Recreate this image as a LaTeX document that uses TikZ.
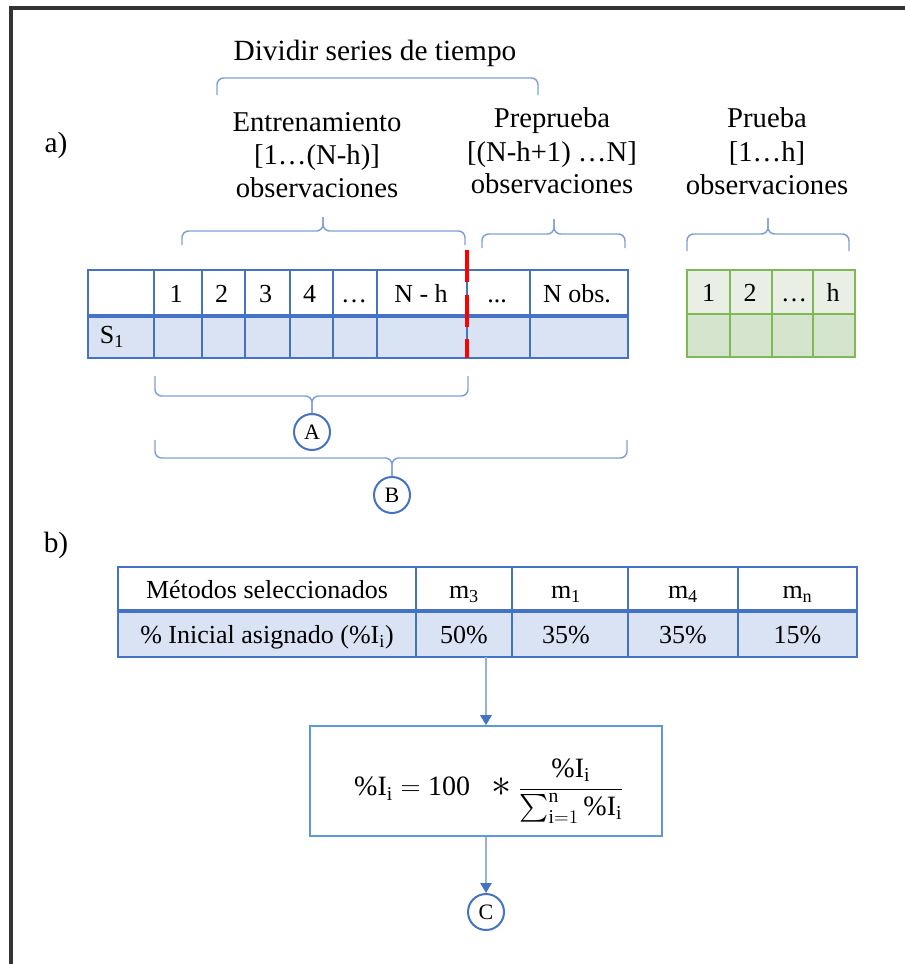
\documentclass[tikz,border=0pt]{standalone}
\usepackage{amsmath}
\usepackage{fontspec}
\setmainfont{Liberation Serif}
\usetikzlibrary{arrows.meta}

\definecolor{tblue}{HTML}{4472C4}
\definecolor{tfill}{HTML}{DAE3F3}
\definecolor{ggrid}{HTML}{7FB956}
\definecolor{gtop}{HTML}{E9EFE5}
\definecolor{gbot}{HTML}{D5E4CD}
\definecolor{bracecol}{HTML}{7F9FD6}
\definecolor{arrline}{HTML}{9DAFD1}
\definecolor{formbox}{HTML}{5B9BD5}
\definecolor{framecol}{HTML}{333333}
\definecolor{splitred}{HTML}{FF0000}

\newcommand\lblsize{\fontsize{21.5}{26}\selectfont}
\newcommand\cellsize{\fontsize{19.5}{23}\selectfont}
\newcommand\circsize{\fontsize{16.5}{19}\selectfont}
\newcommand\formsize{\fontsize{21}{25}\selectfont}
\newcommand\pI{\text{\%I}_{\text{i}}}
\newcommand\bigast{\mathbin{\raisebox{-0.5pt}{\scalebox{1.45}{$\ast$}}}}

\begin{document}
\begin{tikzpicture}[x=0.75pt,y=-0.75pt,
  lbl/.style={font=\lblsize, anchor=base, inner sep=0pt},
  cell/.style={font=\cellsize, anchor=base, inner sep=0pt},
  brc/.style={draw=bracecol, line width=1.1pt, rounded corners=5pt},
  bluegrid/.style={draw=tblue, line width=1.5pt},
  greengrid/.style={draw=ggrid, line width=1.5pt},
  tag/.style={circle, draw=tblue, line width=1.5pt, minimum size=27pt, inner sep=0pt, font=\circsize},
  flow/.style={draw=arrline, line width=1.2pt, -{Triangle[length=7.5pt,width=8.5pt,color=tblue]}},
  area/.style={draw=none, inner sep=0pt}]
\useasboundingbox (0,0) rectangle (905,964);

% outer frame (top and left edges)
\draw[framecol, line width=2.4pt] (905,8) -- (11,8) -- (11,964);

% ---------- part a) ----------
\node[lbl, font=\fontsize{22}{26}\selectfont] (la) at (56,152) {a)};

\node[lbl, font=\fontsize{22}{26}\selectfont] (div) at (375,60) {Dividir series de tiempo};
\draw[brc] (217,95) -- (217,78) -- (538,78) -- (538,95);

\node[lbl] (tr1) at (317,131) {Entrenamiento};
\node[lbl] (tr2) at (317,164) {[1…(N-h)]};
\node[lbl] (tr3) at (317,197) {observaciones};

\node[lbl] (pp1) at (552,127) {Preprueba};
\node[lbl] (pp2) at (552,161) {[(N-h+1) …N]};
\node[lbl] (pp3) at (552,193) {observaciones};

\node[lbl] (pr1) at (767,127) {Prueba};
\node[lbl] (pr2) at (767,161) {[1…h]};
\node[lbl] (pr3) at (767,194) {observaciones};

% braces under the three labels
\draw[brc] (182,245) -- (182,231) -- (323,231) -- (323,217);
\draw[brc] (465,245) -- (465,231) -- (323,231) -- (323,217);
\draw[brc] (482,248) -- (482,234) -- (554,234) -- (554,219);
\draw[brc] (625,248) -- (625,234) -- (554,234) -- (554,219);
\draw[brc] (687,251) -- (687,234) -- (768,234) -- (768,218);
\draw[brc] (849,251) -- (849,234) -- (768,234) -- (768,218);

% series table
\fill[tfill] (88,316) rectangle (628,358);
\draw[bluegrid] (88,270) rectangle (628,358);
\foreach \xx in {154,202,245,290,333,377,467,530}
  \draw[bluegrid] (\xx,270) -- (\xx,358);
\draw[tblue, line width=3pt] (88,316) -- (628,316);
\node[area, minimum width=405pt, minimum height=66pt] (t1) at (358,314) {};

\node[cell] (c1) at (176,302) {1};
\node[cell] (c2) at (221.5,302) {2};
\node[cell] (c3) at (265.5,302) {3};
\node[cell] (c4) at (309.5,302) {4};
\node[cell] (c5) at (354,302) {…};
\node[cell] (c6) at (421,302) {N - h};
\node[cell] (c7) at (497,302) {...};
\node[cell] (c8) at (577,302) {N obs.};
\node[cell] (s1) at (112,343) {S\textsubscript{1}};

% split marker
\draw[splitred, line width=3pt, dash pattern=on 24pt off 9.5pt] (467,250) -- (467,358);

% test table
\fill[gtop] (687,270) rectangle (855,314);
\fill[gbot] (687,314) rectangle (855,357);
\draw[greengrid] (687,270) rectangle (855,357);
\foreach \xx in {730,772,813}
  \draw[greengrid] (\xx,270) -- (\xx,357);
\draw[greengrid] (687,314) -- (855,314);
\node[cell] (g1) at (708.5,301) {1};
\node[cell] (g2) at (750,301) {2};
\node[cell] (g3) at (794,301) {…};
\node[cell] (g4) at (833,301) {h};

% braces A and B
\node[tag] (A) at (312,432) {A};
\node[tag] (B) at (392,495) {B};
\draw[brc] (155,376) -- (155,396) -- (312,396) -- (A.north);
\draw[brc] (468,376) -- (468,396) -- (312,396) -- (A.north);
\draw[brc] (155,440) -- (155,458) -- (392,458) -- (B.north);
\draw[brc] (627,440) -- (627,458) -- (392,458) -- (B.north);

% ---------- part b) ----------
\node[lbl, font=\fontsize{22}{26}\selectfont] (lb) at (56,552) {b)};

\fill[tfill] (118,611) rectangle (857,657);
\draw[bluegrid] (118,567) rectangle (857,657);
\foreach \xx in {416,512,628,738}
  \draw[bluegrid] (\xx,567) -- (\xx,657);
\draw[tblue, line width=3pt] (118,611) -- (857,611);
\node[area, minimum width=554.25pt, minimum height=67.5pt] (t2) at (487.5,612) {};

\node[cell] (h0) at (267,598) {Métodos seleccionados};
\node[cell] (h1) at (464,598) {m\textsubscript{3}};
\node[cell] (h2) at (566,598) {m\textsubscript{1}};
\node[cell] (h3) at (683,598) {m\textsubscript{4}};
\node[cell] (h4) at (797.5,598) {m\textsubscript{n}};
\node[cell] (v0) at (267,643) {\% Inicial asignado (\%I\textsubscript{i})};
\node[cell] (v1) at (464,643) {50\%};
\node[cell] (v2) at (566,643) {35\%};
\node[cell] (v3) at (683,643) {35\%};
\node[cell] (v4) at (797.5,643) {15\%};

% normalisation formula in its box
\node[draw=formbox, line width=1.2pt, minimum width=264pt, minimum height=82.5pt,
      inner sep=0pt] (frm) at (486,781) {};
\node[inner sep=0pt, font=\formsize] (fx) at (489,791)
  {$\displaystyle \pI = \text{100}\;\; \bigast
    \frac{\pI}{\textstyle\sum_{\text{i}=1}^{\text{n}} \pI}$};

\node[tag] (C) at (486,912) {C};

\draw[flow] (frm.north |- t2.south) -- (frm.north);
\draw[flow] (frm.south) -- (C.north);
\end{tikzpicture}
\end{document}
